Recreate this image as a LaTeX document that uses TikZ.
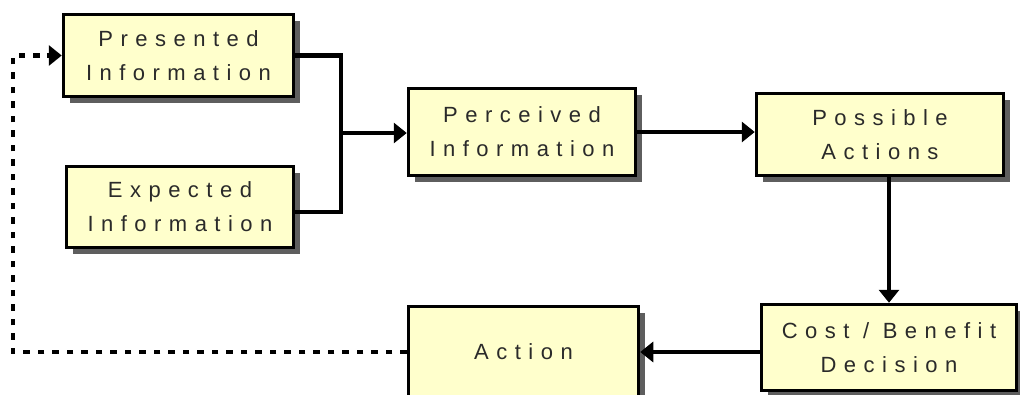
\documentclass[tikz,border=0pt]{standalone}
\usepackage{fontspec}
\setmainfont{Liberation Sans}[LetterSpace=34]
\usetikzlibrary{arrows.meta,shadows,calc}

\definecolor{boxfill}{HTML}{FFFFCC}
\definecolor{shadowgray}{HTML}{5E5E5E}
\definecolor{textgray}{HTML}{2A2A2A}

\tikzset{
  flowbox/.style={draw=black, line width=3.5pt, fill=boxfill, inner sep=0pt,
    align=center, text=textgray,
    font=\fontsize{22pt}{34pt}\selectfont,
    drop shadow={shadow xshift=6pt, shadow yshift=-6pt, fill=shadowgray, opacity=1}},
  link/.style={line width=4.5pt, draw=black},
  tip/.style={-{Triangle[length=13pt,width=20pt]}},
  feedback/.style={line width=4.5pt, draw=black, dash pattern=on 6.5pt off 8pt}
}

\begin{document}
\begin{tikzpicture}[x=1pt, y=-1pt]
  \useasboundingbox (0,0) rectangle (1020,394);
  \clip (0,0) rectangle (1020,394);

  % boxes
  \node[flowbox, minimum width=230pt, minimum height=82pt] (pres) at (178.5,55.5) {Presented\\Information};
  \node[flowbox, minimum width=227pt, minimum height=81pt] (exp)  at (180,207) {Expected\\Information};
  \node[flowbox, minimum width=227pt, minimum height=87pt] (perc) at (522,132) {Perceived\\Information};
  \node[flowbox, minimum width=247pt, minimum height=82pt] (poss) at (880,134.5) {Possible\\Actions};
  \node[flowbox, minimum width=255pt, minimum height=86pt] (cost) at (889,347.5) {Cost / Benefit\\Decision};
  \node[flowbox, minimum width=230pt, minimum height=91pt] (act)  at (523.5,352) {Action};

  % merge of presented and expected information
  \coordinate (join) at (341,133);
  \draw[link] (pres.east) -| (join);
  \draw[link] ([yshift=-5pt]exp.east) -| (join);
  \draw[link, tip] (join) -- (join -| perc.west);

  % main flow
  \draw[link, tip] (perc.east) -- (perc.east -| poss.west);
  \draw[link, tip] (cost.north |- poss.south) -- (cost.north);
  \draw[link, tip] (act.east -| cost.west) -- (act.east);

  % feedback loop
  \coordinate (loop) at (13,352);
  \draw[feedback] (act.west) -- (loop) -- (loop |- pres.west) -- ([xshift=-14pt]pres.west);
  \draw[link, tip] ([xshift=-15pt]pres.west) -- (pres.west);
\end{tikzpicture}
\end{document}
